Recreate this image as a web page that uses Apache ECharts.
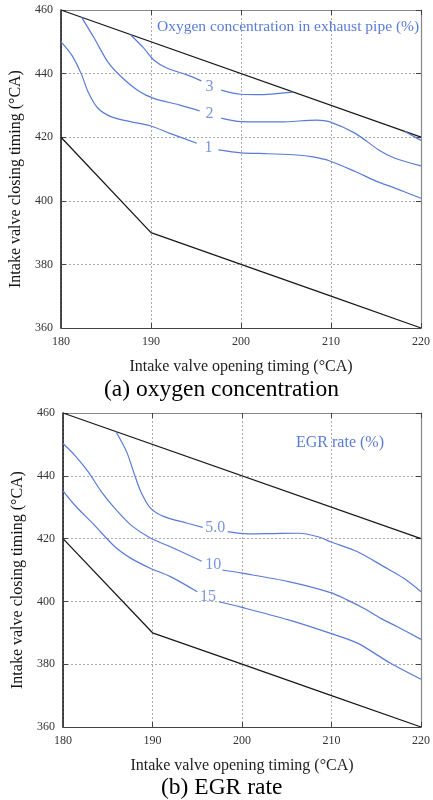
<!DOCTYPE html>
<html>
<head>
<meta charset="utf-8">
<script src="https://cdn.jsdelivr.net/npm/echarts@6/dist/echarts.min.js"></script>
<style>
  html, body { margin: 0; padding: 0; background: #fff; }
  #chart { width: 433px; height: 800px; }
</style>
</head>
<body>
<div id="chart"></div>
<script>
// axis ticks
var xTicks = [180, 220, 10];
var yTicks = [360, 460, 20];

// boundary lines (same on both panels)
var boundUpper = [[180, 460], [220, 420]];
var boundLower = [[180, 420], [190, 390], [200, 380], [210, 370], [220, 360]];

// (a) oxygen concentration contours, null = gap for the label
var o2_1 = [[180, 450], [181.2, 445.8], [182.3, 439.6], [183, 434.3], [184.1, 429.1], [185.6, 426.4],
  [187.7, 424.9], [189.9, 423.6], [192.1, 421.2], [195.1, 418.1], null, [197.5, 416], [200, 415.1], [203, 414.8],
  [206.2, 414.4], [208, 413.8], [209.8, 412.6], [212.7, 409.2], [215, 406.2], [217.1, 404], [220, 400.8]];
var o2_2 = [[182.3, 457.7], [183.7, 451.1], [185.2, 443.7], [186.7, 439], [188.5, 434.8], [190.3, 432.2],
  [193.2, 430.1], [195.4, 428.3], null, [197.8, 426], [200, 424.9], [204.4, 424.8], [208.4, 425.4],
  [209.8, 424.9], [212.7, 421.2], [215.3, 416], [217.1, 413.4], [220, 411]];
var o2_3 = [[187.7, 452.3], [189.2, 448], [190.3, 444.3], [191.8, 441.7], [194, 439.6], [195.6, 437.7], null,
  [197.8, 434.8], [200, 433.5], [201.8, 433.4], [205.8, 434.2], null, [218.2, 421.8], [220, 419]];
var o2LabelPos = [[196.4, 416.6], [196.5, 427.3], [196.5, 436]];
var o2LabelText = ['1', '2', '3'];

// (b) EGR rate contours
var egr5 = [[185.9, 454.1], [187.1, 447.7], [188, 440.3], [188.7, 434.9], [189.8, 429.6], [191.3, 427],
  [193.9, 424.9], [195.6, 423.6], null, [198.4, 422.2], [200.7, 421.5], [203.5, 421.6], [206.3, 421.7],
  [208.5, 420.6], [209.9, 419], [212.9, 415.8], [215.9, 411], [218, 407.5], [220, 403.1]];
var egr10 = [[180, 450.3], [181.3, 446.6], [182.8, 441.3], [184.3, 434.9], [185.8, 429.6], [187.6, 424.3],
  [189.8, 420.1], [192, 417.4], [195.5, 412.8], null, [197.8, 410], [200, 409], [205.2, 406.3], [209.9, 402.8],
  [211.8, 400.4], [213.6, 397.8], [215.5, 394.6], [217.3, 392], [220, 387.9]];
var egr15 = [[180, 435.2], [181.3, 430.7], [183.5, 424.3], [185.8, 417.4], [187.6, 413.7], [189.8, 410.5],
  [192, 407.9], [195, 403.1], null, [197.4, 399.9], [200, 398.1], [205.2, 394.1], [209.9, 389.8], [212.9, 386.7],
  [216.6, 380.3], [220, 375.2]];
var egrLabelPos = [[197, 423.3], [196.8, 411.5], [196.2, 401.5]];
var egrLabelText = ['5.0', '10', '15'];

var serif = "'Liberation Serif', 'Times New Roman', serif";
var blue = '#5a7bd8';

function xAxes(g) {
  return [{
    gridIndex: g, type: 'value', min: xTicks[0], max: xTicks[1], interval: xTicks[2],
    name: 'Intake valve opening timing (\u00b0CA)', nameLocation: 'middle', nameGap: 31,
    nameTextStyle: {fontFamily: serif, fontSize: 16, color: '#222'},
    axisLine: {lineStyle: {color: '#444', width: 1.2}},
    axisTick: {inside: true, length: 5, lineStyle: {color: '#444'}},
    axisLabel: {fontFamily: serif, fontSize: 12, color: '#333', margin: 8},
    splitLine: {show: true, lineStyle: {color: '#aaa', type: [2, 2], width: 1}}
  }, {
    gridIndex: g, type: 'value', position: 'top', min: xTicks[0], max: xTicks[1], interval: xTicks[2],
    axisLine: {lineStyle: {color: '#888', width: 1.2}},
    axisTick: {inside: true, length: 5, lineStyle: {color: '#444'}},
    axisLabel: {show: false}, splitLine: {show: false}
  }];
}

function yAxes(g) {
  return [{
    gridIndex: g, type: 'value', min: yTicks[0], max: yTicks[1], interval: yTicks[2],
    name: 'Intake valve closing timing (\u00b0CA)', nameLocation: 'middle', nameGap: 34,
    nameTextStyle: {fontFamily: serif, fontSize: 16, color: '#111', padding: [0, 20, 0, 0]},
    axisLine: {lineStyle: {color: '#111', width: 1.5}},
    axisTick: {inside: true, length: 5, lineStyle: {color: '#444'}},
    axisLabel: {fontFamily: serif, fontSize: 12, color: '#333', margin: 8},
    splitLine: {show: true, lineStyle: {color: '#aaa', type: [2, 2], width: 1}}
  }, {
    gridIndex: g, type: 'value', position: 'right', min: yTicks[0], max: yTicks[1], interval: yTicks[2],
    axisLine: {show: true, lineStyle: {color: '#888', width: 1.2}},
    axisTick: {show: true, inside: true, length: 5, lineStyle: {color: '#444'}},
    axisLabel: {show: false}, splitLine: {show: false}
  }];
}

function lineSeries(data, axis, color, width, smooth) {
  return {
    type: 'line', data: data, xAxisIndex: axis, yAxisIndex: axis,
    showSymbol: false, smooth: smooth, connectNulls: false, animation: false,
    lineStyle: {color: color, width: width}
  };
}

function labelSeries(pos, texts, axis) {
  return {
    type: 'scatter', xAxisIndex: axis, yAxisIndex: axis, symbolSize: 1, animation: false,
    itemStyle: {color: 'rgba(0,0,0,0)'},
    data: pos.map(function(p, i) { return {value: p, name: texts[i]}; }),
    label: {show: true, position: 'inside', formatter: '{b}',
      fontFamily: serif, fontSize: 16, color: blue}
  };
}

var chart = echarts.init(document.getElementById('chart'));
chart.setOption({
  backgroundColor: '#fff',
  animation: false,
  title: [
    {text: 'Oxygen concentration in exhaust pipe (%)', left: 157, top: 19, padding: 0,
      textStyle: {fontFamily: serif, fontSize: 15.5, color: blue, fontWeight: 'normal'}},
    {text: 'EGR rate (%)', left: 296, top: 435, padding: 0,
      textStyle: {fontFamily: serif, fontSize: 16, color: blue, fontWeight: 'normal'}},
    {text: '(a) oxygen concentration', left: 104, top: 378, padding: 0,
      textStyle: {fontFamily: serif, fontSize: 23.5, color: '#000', fontWeight: 'normal'}},
    {text: '(b) EGR rate', left: 161, top: 776, padding: 0,
      textStyle: {fontFamily: serif, fontSize: 23.5, color: '#000', fontWeight: 'normal'}}
  ],
  grid: [
    {left: 61, right: 7, top: 10, height: 318},
    {left: 63, right: 9, top: 413, height: 314}
  ],
  xAxis: xAxes(0).concat(xAxes(1)),
  yAxis: yAxes(0).concat(yAxes(1)),
  series: [
    lineSeries(boundUpper, 0, '#1a1a1a', 1.3, false),
    lineSeries(boundLower, 0, '#1a1a1a', 1.3, false),
    lineSeries(o2_1, 0, blue, 1.2, 0.3),
    lineSeries(o2_2, 0, blue, 1.2, 0.3),
    lineSeries(o2_3, 0, blue, 1.2, 0.3),
    labelSeries(o2LabelPos, o2LabelText, 0),
    lineSeries(boundUpper, 2, '#1a1a1a', 1.3, false),
    lineSeries(boundLower, 2, '#1a1a1a', 1.3, false),
    lineSeries(egr5, 2, blue, 1.2, 0.3),
    lineSeries(egr10, 2, blue, 1.2, 0.3),
    lineSeries(egr15, 2, blue, 1.2, 0.3),
    labelSeries(egrLabelPos, egrLabelText, 2)
  ]
});
</script>
</body>
</html>
